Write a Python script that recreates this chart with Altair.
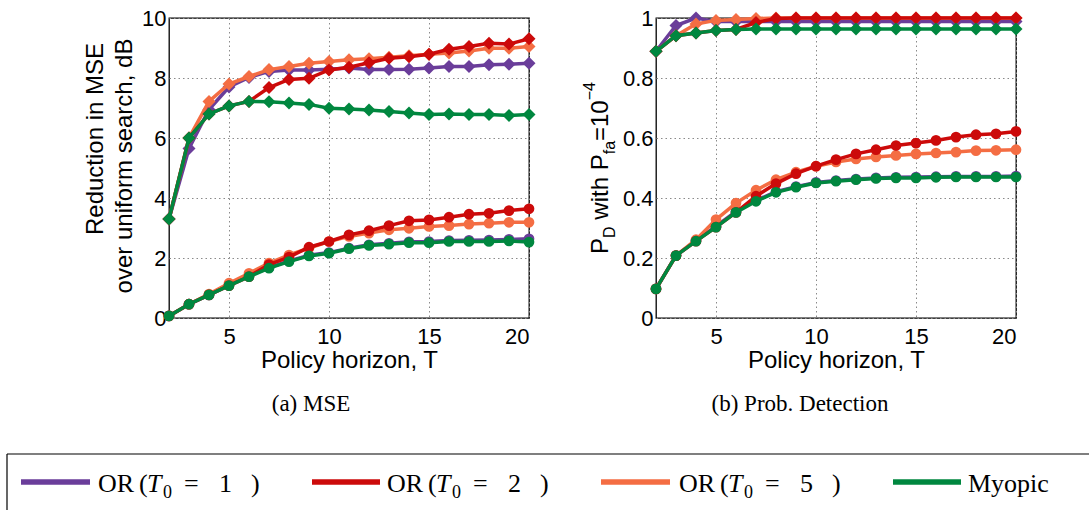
import altair as alt
import pandas as pd

# Policy horizon values shared by every curve
T = list(range(2, 21))

SERIES = ["OR (T0 = 1)", "OR (T0 = 2)", "OR (T0 = 5)", "Myopic"]
COLORS = ["#6a3d9a", "#cc0a0a", "#f46d43", "#00873f"]
DRAW_ORDER = [0, 2, 1, 3]          # purple, orange, red, then green on top

# (a) Reduction in MSE over uniform search, dB
mse_upper = [  # diamond curves
    [3.30, 5.65, 6.95, 7.70, 8.02, 8.22, 8.27, 8.27, 8.29, 8.33, 8.28, 8.28, 8.29, 8.33, 8.38, 8.38, 8.44, 8.46, 8.49],
    [3.30, 6.00, 6.80, 7.07, 7.22, 7.68, 7.95, 7.99, 8.27, 8.36, 8.51, 8.66, 8.71, 8.79, 8.96, 9.05, 9.16, 9.13, 9.31],
    [3.30, 6.00, 7.22, 7.80, 8.05, 8.28, 8.38, 8.49, 8.55, 8.61, 8.64, 8.69, 8.74, 8.79, 8.83, 8.90, 8.99, 8.99, 9.05],
    [3.30, 6.00, 6.80, 7.07, 7.22, 7.21, 7.17, 7.12, 6.99, 6.97, 6.93, 6.88, 6.83, 6.78, 6.80, 6.78, 6.78, 6.75, 6.78],
]
mse_lower = [  # circle curves
    [0.07, 0.46, 0.77, 1.10, 1.40, 1.68, 1.90, 2.09, 2.18, 2.33, 2.44, 2.49, 2.54, 2.55, 2.58, 2.59, 2.60, 2.62, 2.64],
    [0.07, 0.46, 0.77, 1.08, 1.38, 1.78, 2.03, 2.36, 2.55, 2.77, 2.91, 3.08, 3.24, 3.27, 3.36, 3.46, 3.49, 3.58, 3.64],
    [0.07, 0.46, 0.80, 1.16, 1.49, 1.83, 2.10, 2.33, 2.55, 2.72, 2.83, 2.94, 2.99, 3.05, 3.08, 3.13, 3.16, 3.19, 3.19],
    [0.07, 0.46, 0.77, 1.08, 1.38, 1.66, 1.88, 2.07, 2.16, 2.31, 2.42, 2.46, 2.51, 2.51, 2.55, 2.55, 2.55, 2.57, 2.53],
]

# (b) Probability of detection with Pfa = 1e-4
pd_upper = [
    [0.889, 0.975, 1.000, 0.988, 0.988, 0.988, 0.988, 0.988, 0.988, 0.988, 0.988, 0.988, 0.988, 0.988, 0.988, 0.988, 0.988, 0.988, 0.988],
    [0.889, 0.941, 0.950, 0.958, 0.962, 0.985, 0.998, 1.000, 1.000, 1.000, 1.000, 1.000, 1.000, 1.000, 1.000, 1.000, 1.000, 1.000, 1.000],
    [0.889, 0.941, 0.980, 0.992, 0.995, 0.998, 1.000, 1.000, 1.000, 1.000, 1.000, 1.000, 1.000, 1.000, 1.000, 1.000, 1.000, 1.000, 1.000],
    [0.889, 0.941, 0.950, 0.958, 0.962, 0.963, 0.963, 0.963, 0.963, 0.963, 0.963, 0.963, 0.963, 0.963, 0.963, 0.963, 0.963, 0.963, 0.963],
]
pd_lower = [
    [0.097, 0.208, 0.258, 0.306, 0.355, 0.392, 0.421, 0.438, 0.452, 0.458, 0.463, 0.467, 0.469, 0.470, 0.471, 0.472, 0.472, 0.472, 0.473],
    [0.097, 0.208, 0.256, 0.303, 0.352, 0.406, 0.448, 0.481, 0.506, 0.528, 0.547, 0.561, 0.575, 0.583, 0.592, 0.603, 0.611, 0.614, 0.622],
    [0.097, 0.208, 0.261, 0.328, 0.383, 0.426, 0.461, 0.486, 0.506, 0.520, 0.530, 0.537, 0.542, 0.547, 0.550, 0.553, 0.558, 0.559, 0.561],
    [0.097, 0.208, 0.256, 0.303, 0.352, 0.389, 0.419, 0.436, 0.450, 0.456, 0.461, 0.465, 0.467, 0.467, 0.469, 0.470, 0.470, 0.470, 0.470],
]

X_TICKS = [5, 10, 15, 20]
MSE_TICKS = [0, 2, 4, 6, 8, 10]
PD_TICKS = [0, 0.2, 0.4, 0.6, 0.8, 1]

SANS = "Liberation Sans"
SERIF = "Liberation Serif"
W, H = 360, 300
one = pd.DataFrame({"k": [0]})


def long_frame(upper, lower):
    rows = []
    for k in range(len(SERIES)):
        for t, a, b in zip(T, upper[k], lower[k]):
            rows.append({"T": t, "v": a, "s": k, "g": "up"})
            rows.append({"T": t, "v": b, "s": k, "g": "low"})
    return pd.DataFrame(rows)


def curves(df, y_domain, y_ticks):
    x = alt.X("T:Q", scale=alt.Scale(domain=[2, 20], nice=False, zero=False),
              axis=alt.Axis(values=X_TICKS, title="Policy horizon, T"))
    y = alt.Y("v:Q", scale=alt.Scale(domain=y_domain, nice=False),
              axis=alt.Axis(values=y_ticks, format="~r", title=None))
    layers = []
    for k in DRAW_ORDER:
        base = alt.Chart(df).transform_filter(alt.datum.s == k)
        layers.append(base.mark_line(color=COLORS[k], strokeWidth=3.5)
                      .encode(x=x, y=y, detail="g:N"))
        layers.append(base.transform_filter(alt.datum.g == "up")
                      .mark_point(shape="diamond", filled=True, size=170,
                                  color=COLORS[k], opacity=1)
                      .encode(x=x, y=y))
        layers.append(base.transform_filter(alt.datum.g == "low")
                      .mark_point(shape="circle", filled=True, size=115,
                                  color=COLORS[k], opacity=1)
                      .encode(x=x, y=y))
    return layers


def label(text, x, y, size=24, font=SANS, angle=0, align="left",
          baseline="alphabetic", style="normal"):
    return (alt.Chart(one)
            .mark_text(text=text, font=font, fontSize=size, angle=angle,
                       align=align, baseline=baseline, fontStyle=style,
                       color="black")
            .encode(x=alt.value(x), y=alt.value(y)))


def hline(x0, x1, y, color="black", width=1.2, opacity=1):
    return (alt.Chart(one).mark_rule(color=color, strokeWidth=width, opacity=opacity)
            .encode(x=alt.value(x0), x2=alt.value(x1), y=alt.value(y)))


def vline(x, y0, y1, color="black", width=1.2, opacity=1):
    return (alt.Chart(one).mark_rule(color=color, strokeWidth=width, opacity=opacity)
            .encode(x=alt.value(x), y=alt.value(y0), y2=alt.value(y1)))


def caption(text, dx):
    return alt.TitleParams(text, orient="bottom", font=SERIF, fontSize=23,
                           fontWeight="normal", color="black", frame="group",
                           anchor="middle", dx=dx, offset=21)


# ---- (a) MSE panel
left_layers = curves(long_frame(mse_upper, mse_lower), [0, 10], MSE_TICKS)
left_layers += [
    label("Reduction in MSE", -66, 121, angle=270, align="center"),
    label("over uniform search, dB", -37, 148, angle=270, align="center"),
    vline(-162, -16.5, -15.5, opacity=0),     # pins the panel's top/left extent
    vline(380, -16.5, -15.5, opacity=0),
]
left = alt.layer(*left_layers).properties(width=W, height=H,
                                         title=caption("(a) MSE", -38))

# ---- (b) detection panel; y title assembled with sub/superscripts
ytitle = [
    ("P", 24, -47.7, 236.0),
    ("D", 16, -41.0, 220.0),
    ("with P", 24, -47.7, 201.7),
    ("fa", 16, -41.0, 136.3),
    ("=10", 24, -47.7, 123.0),
    ("\u22124", 16, -61.0, 82.3),
]
right_layers = curves(long_frame(pd_upper, pd_lower), [0, 1], PD_TICKS)
right_layers += [label(t, x, y, size=s, angle=270) for t, s, x, y in ytitle]
right_layers += [vline(-92.7, -16.5, -15.5, opacity=0)]
right = alt.layer(*right_layers).properties(width=W, height=H,
                                           title=caption("(b) Prob. Detection", -36))

# ---- legend strip (shares its origin with the left plot area)
LEG_W, LEG_H = 920, 56
line_x = [(-148, -79), (143, 211), (432, 501), (724, 792)]
text_x = [-71, 218, 510, 799]
t0_vals = ["1", "2", "5"]
leg = [hline(-162, LEG_W, 0), vline(-162, 0, LEG_H)]
for k in range(len(SERIES)):
    x0, x1 = line_x[k]
    leg.append(hline(x0, x1, 28, color=COLORS[k], width=5.5))
    tx = text_x[k]
    if k < 3:
        leg += [
            label("OR", tx, 38, size=26, font=SERIF),
            label("(", tx + 41, 38, size=26, font=SERIF),
            label("T", tx + 49, 38, size=26, font=SERIF, style="italic"),
            label("0", tx + 65, 44, size=18, font=SERIF),
            label("=", tx + 86, 38, size=26, font=SERIF),
            label(t0_vals[k], tx + 121, 38, size=26, font=SERIF),
            label(")", tx + 153, 38, size=26, font=SERIF),
        ]
    else:
        leg.append(label("Myopic", tx, 38, size=26, font=SERIF))

legend = alt.layer(*leg).properties(width=LEG_W, height=LEG_H,
                                    view=alt.ViewBackground(strokeOpacity=0))

chart = (
    alt.vconcat(alt.hconcat(left, right, spacing=12), legend, spacing=36)
    .properties(padding={"left": 6, "top": 0, "right": 0, "bottom": 0},
                background="white")
    .configure_view(stroke="black", strokeWidth=1.3)
    .configure_axis(labelFont=SANS, labelFontSize=22, labelColor="black",
                    titleFont=SANS, titleFontSize=24, titleFontWeight="normal",
                    titleColor="black", grid=True, gridColor="#8a8a8a",
                    gridDash=[1.5, 3], gridWidth=1, ticks=False, domain=False)
    .configure_axisX(labelPadding=8, titlePadding=1)
    .configure_axisY(labelPadding=3)
)

chart.save("out.html", embed_options={"renderer": "svg", "actions": False})
